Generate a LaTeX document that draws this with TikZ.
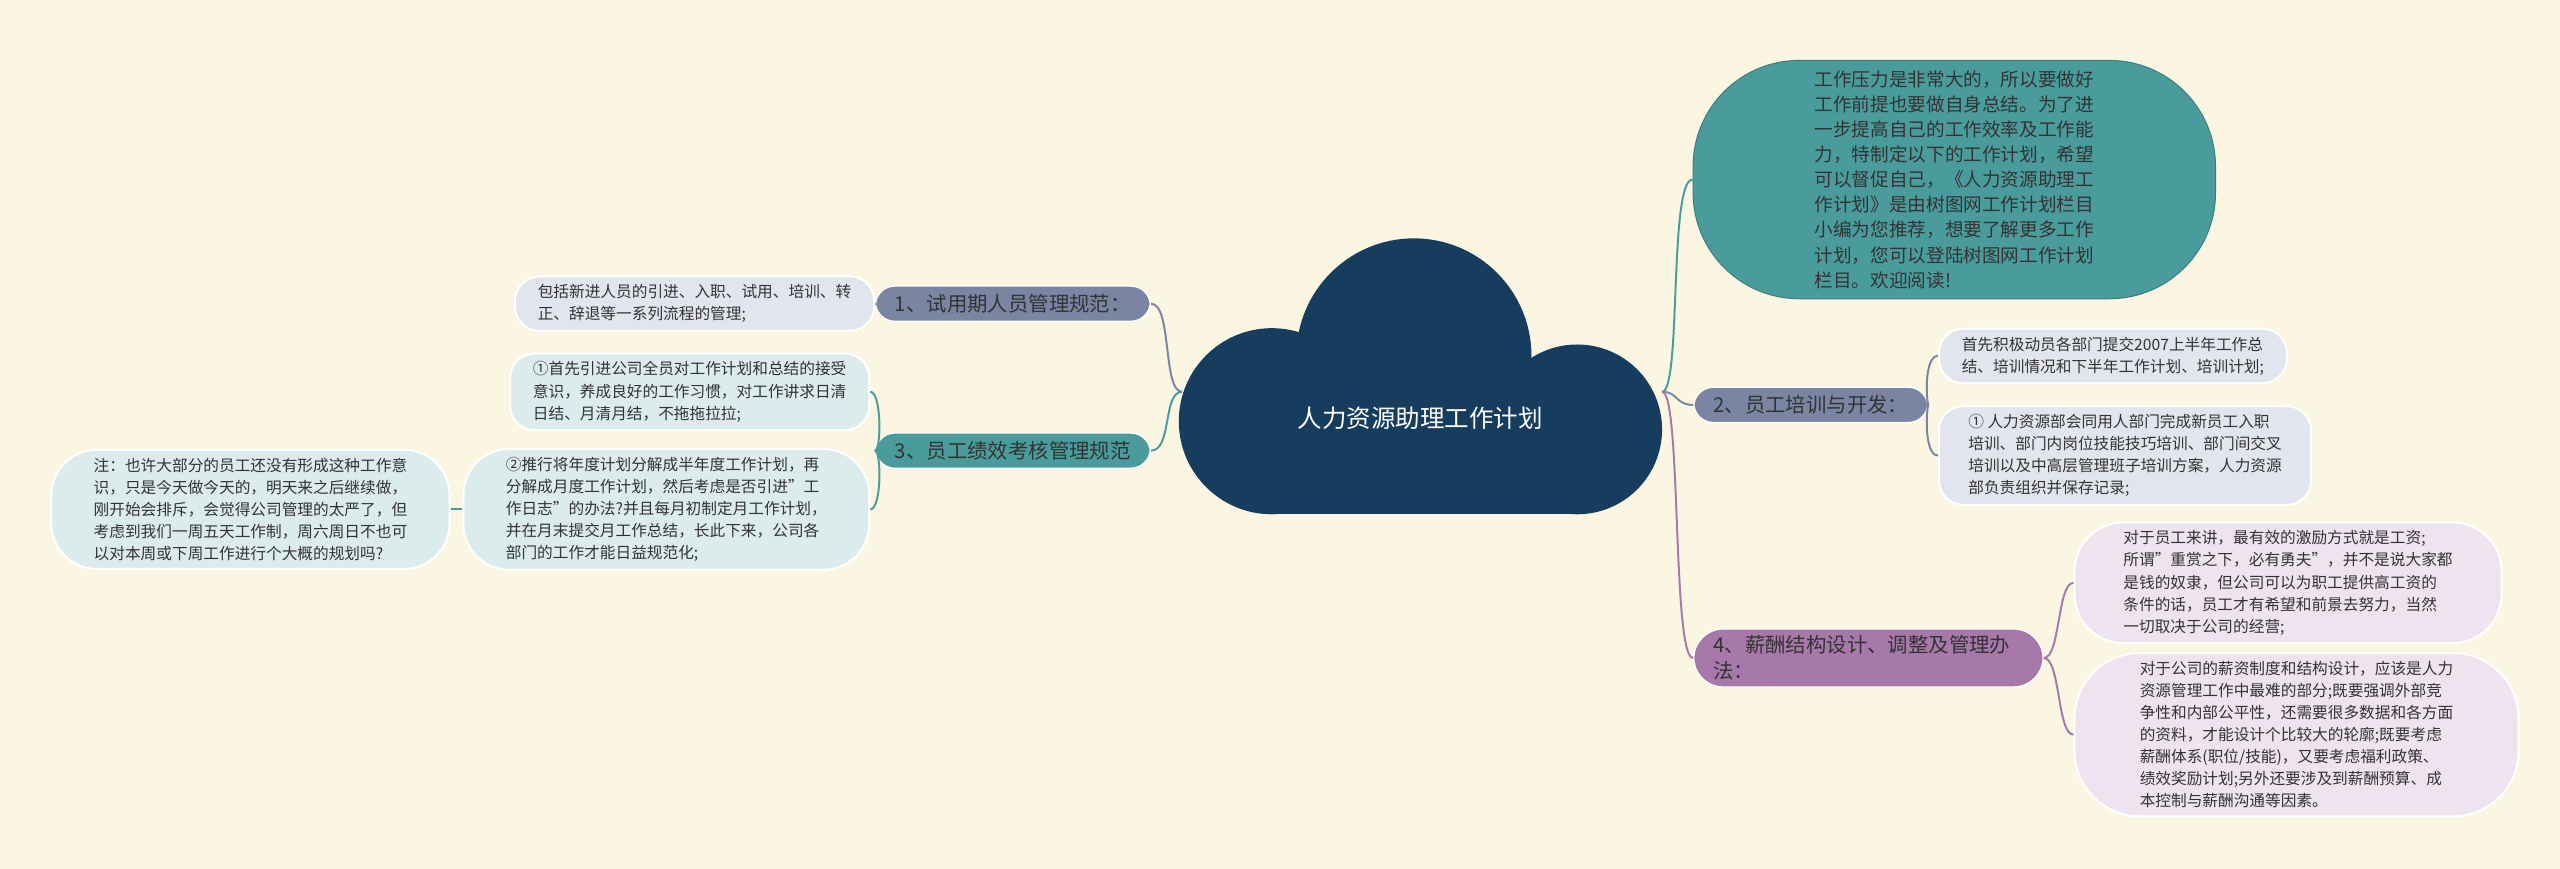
\documentclass[tikz,border=0pt]{standalone}
\usepackage{fontspec}
\setmainfont{Noto Sans CJK SC}
\usetikzlibrary{positioning}
\definecolor{bgc}{HTML}{FBF6E1}
\definecolor{navy}{HTML}{173D5E}
\definecolor{tealc}{HTML}{4A9C9C}
\definecolor{slate}{HTML}{7A85A3}
\definecolor{plum}{HTML}{A778AA}
\definecolor{leafslate}{HTML}{E2E5EE}
\definecolor{leafteal}{HTML}{DCEBEB}
\definecolor{leafplum}{HTML}{EEE3EF}
\definecolor{txt}{HTML}{333333}
\tikzset{
	branch/.style={rounded corners=12pt, inner xsep=12pt, inner ysep=5pt, font=\fontsize{12.5}{16}\selectfont, text=txt, draw=white, line width=0.8pt},
	leaf/.style={rounded corners=15pt, inner xsep=14pt, inner ysep=5pt, font=\fontsize{9.6}{13.5}\selectfont, text=txt, draw=white, line width=1.2pt, align=left},
	link/.style={line width=1.2pt}
}
\begin{document}
\begin{tikzpicture}[x=1pt,y=-1pt]
	\fill[bgc] (0,0) rectangle (1568,532);
	\useasboundingbox (0,0) rectangle (1568,532);
	% cloud
	\begin{scope}[fill=navy]
		\fill (866,218) circle (72);
		\fill (779,258) circle (57);
		\fill (966,263) circle (52);
		\fill (779,250) rectangle (966,315);
	\end{scope}
	\node[text=white, font=\fontsize{15}{18}\selectfont] (root) at (870,256) {人力资源助理工作计划};
	\coordinate (rootL) at (724,240);
	\coordinate (rootR) at (1018,240);
	% right side
	\node[fill=tealc, rounded corners=65pt, minimum width=320pt, minimum height=146pt, align=left, font=\fontsize{11.4}{15.4}\selectfont, text=txt, draw=tealc!80!black, line width=0.6pt] (intro) at (1197,110)
		{工作压力是非常大的，所以要做好\\工作前提也要做自身总结。为了进\\一步提高自己的工作效率及工作能\\力，特制定以下的工作计划，希望\\可以督促自己，《人力资源助理工\\作计划》是由树图网工作计划栏目\\小编为您推荐，想要了解更多工作\\计划，您可以登陆树图网工作计划\\栏目。欢迎阅读!};
	\node[branch, fill=slate, anchor=west] (b2) at (1037,248) {2、员工培训与开发：};
	\node[leaf, fill=leafslate, anchor=west] (l2a) at (1187,218) {首先积极动员各部门提交2007上半年工作总\\结、培训情况和下半年工作计划、培训计划;};
	\node[leaf, fill=leafslate, anchor=west, inner xsep=18pt] (l2b) at (1187,279) {① 人力资源部会同用人部门完成新员工入职\\培训、部门内岗位技能技巧培训、部门间交叉\\培训以及中高层管理班子培训方案，人力资源\\部负责组织并保存记录;};
	\node[branch, fill=plum, anchor=west, align=left, text width=190pt, rounded corners=18pt, inner ysep=4pt] (b4) at (1037,403) {4、薪酬结构设计、调整及管理办\\法：};
	\node[leaf, fill=leafplum, anchor=west, rounded corners=30pt, inner xsep=30pt] (l4a) at (1270,357) {对于员工来讲，最有效的激励方式就是工资;\\所谓"重赏之下，必有勇夫"，并不是说大家都\\是钱的奴隶，但公司可以为职工提供高工资的\\条件的话，员工才有希望和前景去努力，当然\\一切取决于公司的经营;};
	\node[leaf, fill=leafplum, anchor=west, rounded corners=40pt, inner xsep=40pt] (l4b) at (1270,450) {对于公司的薪资制度和结构设计，应该是人力\\资源管理工作中最难的部分;既要强调外部竞\\争性和内部公平性，还需要很多数据和各方面\\的资料，才能设计个比较大的轮廓;既要考虑\\薪酬体系(职位/技能)，又要考虑福利政策、\\绩效奖励计划;另外还要涉及到薪酬预算、成\\本控制与薪酬沟通等因素。};
	% left side
	\node[branch, fill=slate, anchor=east] (b1) at (705,186) {1、试用期人员管理规范：};
	\node[leaf, fill=leafslate, anchor=east] (l1) at (536,186) {包括新进人员的引进、入职、试用、培训、转\\正、辞退等一系列流程的管理;};
	\node[branch, fill=tealc, anchor=east] (b3) at (705,276) {3、员工绩效考核管理规范};
	\node[leaf, fill=leafteal, anchor=east, inner xsep=14pt] (l3a) at (533,240) {①首先引进公司全员对工作计划和总结的接受\\意识，养成良好的工作习惯，对工作讲求日清\\日结、月清月结，不拖拖拉拉;};
	\node[leaf, fill=leafteal, anchor=east, rounded corners=28pt, inner xsep=26pt] (l3b) at (533,312) {②推行将年度计划分解成半年度工作计划，再\\分解成月度工作计划，然后考虑是否引进"工\\作日志"的办法?并且每月初制定月工作计划，\\并在月末提交月工作总结，长此下来，公司各\\部门的工作才能日益规范化;};
	\node[leaf, fill=leafteal, anchor=east, rounded corners=28pt, inner xsep=26pt] (l3c) at (276,312) {注：也许大部分的员工还没有形成这种工作意\\识，只是今天做今天的，明天来之后继续做，\\刚开始会排斥，会觉得公司管理的太严了，但\\考虑到我们一周五天工作制，周六周日不也可\\以对本周或下周工作进行个大概的规划吗?};
	% connectors
	\draw[link, slate] (rootL) .. controls (712,240) and (718,186) .. (b1.east);
	\draw[link, tealc] (rootL) .. controls (712,240) and (718,276) .. (b3.east);
	\draw[link, tealc] (rootR) .. controls (1030,240) and (1022,110) .. (intro.west);
	\draw[link, slate] (rootR) .. controls (1028,240) and (1026,248) .. (b2.west);
	\draw[link, plum] (rootR) .. controls (1030,240) and (1024,403) .. (b4.west);
	\draw[link, slate] (b1.west) -- (l1.east);
	\draw[link, tealc] (b3.west) .. controls (540,276) and (540,240) .. (l3a.east);
	\draw[link, tealc] (b3.west) .. controls (540,276) and (540,312) .. (l3b.east);
	\draw[link, tealc] (l3b.west) -- (l3c.east);
	\draw[link, slate] (b2.east) .. controls (1180,248) and (1178,218) .. (l2a.west);
	\draw[link, slate] (b2.east) .. controls (1180,248) and (1178,279) .. (l2b.west);
	\draw[link, plum] (b4.east) .. controls (1262,403) and (1260,357) .. (l4a.west);
	\draw[link, plum] (b4.east) .. controls (1262,403) and (1260,450) .. (l4b.west);
\end{tikzpicture}
\end{document}
